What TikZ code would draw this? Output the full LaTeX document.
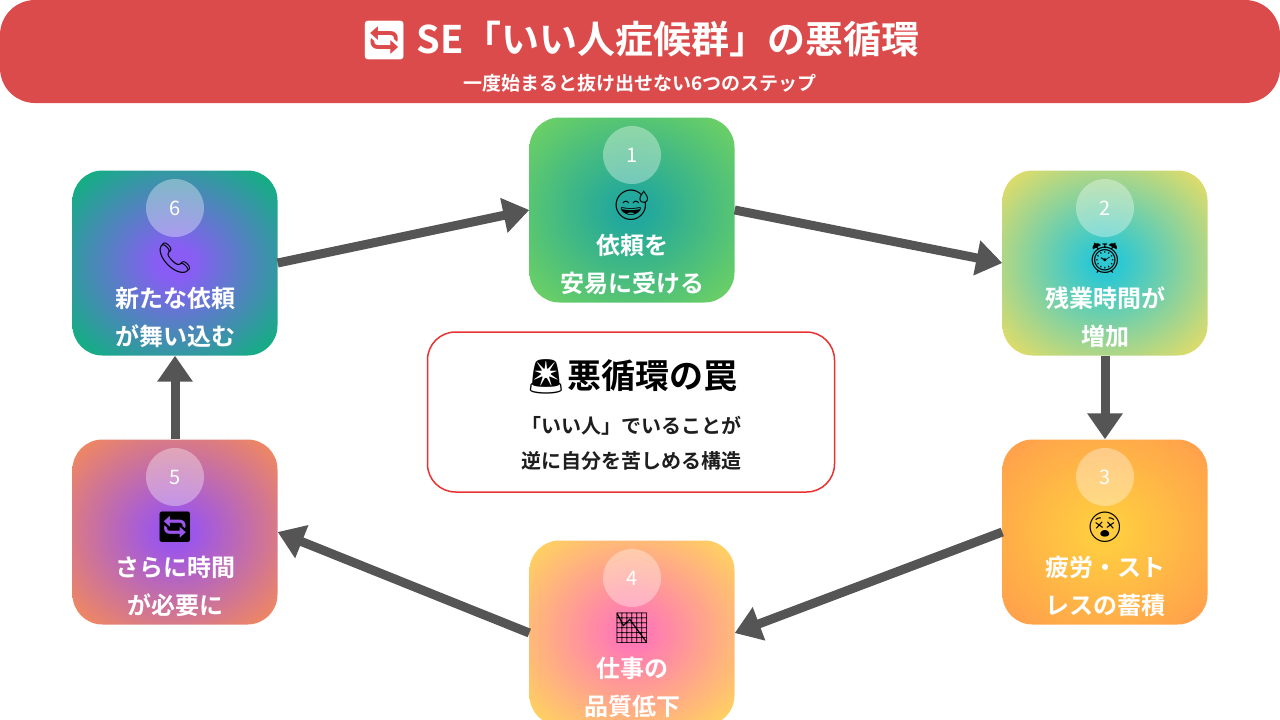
\documentclass[tikz,border=0pt]{standalone}
\usepackage{fontspec}
\setmainfont{Noto Sans CJK JP}[BoldFont={Noto Sans CJK JP Bold}]
\newfontfamily\emoji{Noto Emoji}
\usetikzlibrary{arrows.meta}
\definecolor{hdr}{HTML}{DC4B4B}
\definecolor{arr}{HTML}{555555}
\colorlet{stepin}{white}
\colorlet{stepout}{black}
\pgfdeclareradialshading[stepin,stepout]{stepglow}{\pgfpoint{0bp}{0bp}}{%
  color(0bp)=(stepin); color(4bp)=(stepin); color(33bp)=(stepout); color(50bp)=(stepout)}
\tikzset{
  stepbox/.style={rounded corners=30pt, minimum width=205pt, minimum height=185pt, inner sep=0pt},
  glow/.style 2 args={/utils/exec={\definecolor{stepin}{HTML}{#1}\definecolor{stepout}{HTML}{#2}}, shading=stepglow},
  numdot/.style={circle, fill=white, fill opacity=0.35, text opacity=1, minimum size=58pt, text=white, font=\fontsize{20}{20}\selectfont},
  steptext/.style={text=white, font=\bfseries\fontsize{24}{38}\selectfont, align=center},
  flow/.style={arr, line width=9pt, -{Triangle[length=26pt, width=34pt]}}
}
\begin{document}
\begin{tikzpicture}[x=1pt, y=-1pt]
\useasboundingbox (0,0) rectangle (1280,720);

% header
\fill[hdr, rounded corners=35pt] (0,0) rectangle (1280,103);
\node[text=white, font=\bfseries\fontsize{38}{38}\selectfont] (title) at (640,40)
    {{\emoji 🔄} SE「いい人症候群」の悪循環};
\node[text=white, font=\bfseries\fontsize{19}{19}\selectfont] (subtitle) at (640,83)
    {一度始まると抜け出せない6つのステップ};

% steps
\node[stepbox, glow={22A89C}{6CD064}] (s1) at (632,210) {};
\node[stepbox, glow={2EC8D2}{E2DC68}] (s2) at (1105,263) {};
\node[stepbox, glow={FFCC40}{FFA04C}] (s3) at (1105,532) {};
\node[stepbox, glow={FF7AB4}{FFD260}] (s4) at (632,633) {};
\node[stepbox, glow={9B55EB}{F08860}] (s5) at (175,532) {};
\node[stepbox, glow={8A5CF6}{10B080}] (s6) at (175,263) {};

\foreach \s/\n/\e/\a/\b in {s1/1/😅/依頼を/安易に受ける, s2/2/⏰/残業時間が/増加,
    s3/3/😵/疲労・スト/レスの蓄積, s4/4/📉/仕事の/品質低下,
    s5/5/🔄/さらに時間/が必要に, s6/6/📞/新たな依頼/が舞い込む} {
  \node[numdot] (\s num) at ([yshift=55pt]\s.center) {\n};
  \node[font=\emoji\fontsize{30}{30}\selectfont] (\s ico) at ([yshift=5pt]\s.center) {\e};
  \node[steptext] (\s txt) at ([yshift=-54pt]\s.center) {\a\\\b};
}

% center box
\node[draw={rgb,255:red,235;green,50;blue,50}, line width=1.5pt, fill=white, rounded corners=28pt,
    minimum width=407pt, minimum height=160pt] (trap) at (631,412) {};
\node[font=\bfseries\fontsize{34}{34}\selectfont] (traptitle) at (631,377) {{\emoji 🚨}悪循環の罠};
\node[font=\bfseries\fontsize{20}{35}\selectfont, align=center, text={rgb,255:red,30;green,30;blue,30}] (traptxt) at (631,443)
    {「いい人」でいることが\\逆に自分を苦しめる構造};

% arrows
\draw[flow] (s6.east) -- (s1.west);
\draw[flow] (s1.east) -- (s2.west);
\draw[flow] (s2.south) -- (s3.north);
\draw[flow] (s3.west) -- (s4.east);
\draw[flow] (s4.west) -- (s5.east);
\draw[flow] (s5.north) -- (s6.south);
\end{tikzpicture}
\end{document}
